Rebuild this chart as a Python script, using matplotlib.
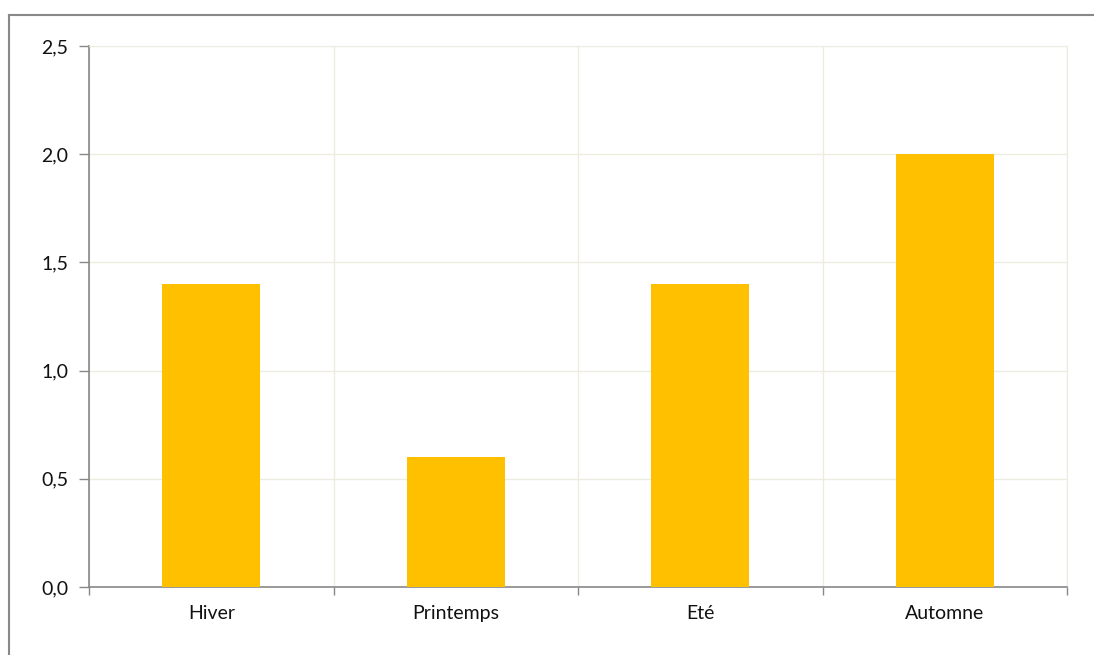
import matplotlib
matplotlib.use("Agg")
import matplotlib.pyplot as plt
from matplotlib.lines import Line2D
from matplotlib.ticker import FixedLocator, NullFormatter

categories = ["Hiver", "Printemps", "Eté", "Automne"]
values = [1.4, 0.6, 1.4, 2.0]
yticks = [0.0, 0.5, 1.0, 1.5, 2.0, 2.5]
ytick_labels = ["0,0", "0,5", "1,0", "1,5", "2,0", "2,5"]

W, H = 1094, 655
fig = plt.figure(figsize=(W / 100, H / 100), dpi=100)
plt.rcParams['font.family'] = ['Lato', 'DejaVu Sans']

ax = fig.add_axes([89 / W, (H - 587) / H, (1067 - 89) / W, (587 - 46) / H])
x = list(range(len(categories)))
ax.bar(x, values, width=0.4, color="#FFC000", zorder=3)

ax.set_xlim(-0.5, len(categories) - 0.5)
ax.set_ylim(0, 2.5)
ax.set_yticks(yticks)
ax.set_yticklabels(ytick_labels, fontsize=14, color="#111111")

bounds = [i - 0.5 for i in range(len(categories) + 1)]
ax.xaxis.set_major_locator(FixedLocator(bounds))
ax.xaxis.set_major_formatter(NullFormatter())
ax.xaxis.set_minor_locator(FixedLocator(x))
ax.set_xticklabels(categories, minor=True, fontsize=14, color="#111111")
ax.tick_params(axis="x", which="minor", length=0, pad=13)
ax.tick_params(axis="x", which="major", length=6, color="#888888", width=1)
ax.tick_params(axis="y", length=7, color="#888888", width=1, pad=8)

ax.grid(True, which="major", color="#EEEBE0", linewidth=1, zorder=0)
ax.set_axisbelow(True)
for s in ["top", "right"]:
    ax.spines[s].set_color("#EEEBE0")
for s in ["left", "bottom"]:
    ax.spines[s].set_color("#888888")
    ax.spines[s].set_linewidth(1.2)

# outer border (left and top of chart area)
fig.add_artist(Line2D([9 / W, 9 / W], [0, (H - 15) / H], transform=fig.transFigure, color="#888888", linewidth=1.5))
fig.add_artist(Line2D([9 / W, 1], [(H - 15) / H, (H - 15) / H], transform=fig.transFigure, color="#888888", linewidth=1.5))

fig.savefig("out.png", dpi=100)
